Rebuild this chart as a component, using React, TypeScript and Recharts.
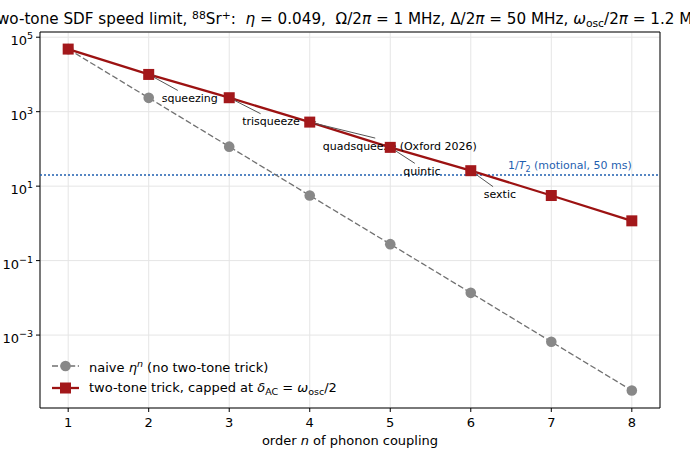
import {
  LineChart,
  Line,
  XAxis,
  YAxis,
  CartesianGrid,
  ReferenceLine,
  ReferenceDot,
  ReferenceArea,
  Legend,
} from 'recharts';

const orders = [1, 2, 3, 4, 5, 6, 7, 8];
// rate (1/s) if the n-th order coupling simply scales as eta^n
const naiveRate = [48000, 2350, 115, 5.6, 0.277, 0.0136, 0.00066, 0.0000325];
// two-tone SDF rate, capped at delta_AC = omega_osc / 2
const twoToneRate = [48000, 10000, 2370, 525, 110, 26, 5.6, 1.17];
const orderNames = ['', 'squeezing', 'trisqueeze', 'quadsqueeze (Oxford 2026)', 'quintic', 'sextic', '', ''];
// 1/T2 for 50 ms motional coherence
const t2Rate = 20;
const t2Order = 8;

const xTicks = [1, 2, 3, 4, 5, 6, 7, 8];
const yTicks = [1e-3, 1e-1, 1e1, 1e3, 1e5];
const xDomain: [number, number] = [0.65, 8.35];
const yDomain: [number, number] = [1.1e-5, 1.38e5];

const data = orders.map((n, i) => ({ n, naive: naiveRate[i], twoTone: twoToneRate[i] }));

const FONT = '"DejaVu Sans", sans-serif';
const RED = '#9c1212';
const RED_MARK = '#a3181b';
const GRAY_LINE = '#707070';
const GRAY_MARK = '#888888';
const BLUE = '#1f5fb0';
const NOTE_SIZE = 11;

function YTick({ x, y, payload }: any) {
  const e = Math.round(Math.log10(payload.value));
  const exp = e < 0 ? `\u2212${-e}` : `${e}`;
  return (
    <text x={x} y={y + 8} textAnchor="end" fontSize={13} fill="#000" fontFamily={FONT}>
      10
      <tspan dy={-6} fontSize={9.5}>
        {exp}
      </tspan>
    </text>
  );
}

function XTick({ x, y, payload }: any) {
  return (
    <text x={x} y={y} dy="0.71em" textAnchor="middle" fontSize={13} fill="#000" fontFamily={FONT}>
      {payload.value}
    </text>
  );
}

function XLabel({ viewBox }: any) {
  const { x, y, width } = viewBox;
  return (
    <text x={x + width / 2} y={y + 37} textAnchor="middle" fontSize={13} fill="#000" fontFamily={FONT}>
      {'order '}
      <tspan fontStyle="italic">n</tspan>
      {' of phonon coupling'}
    </text>
  );
}

function CircleDot(p: any) {
  if (p.cx == null || p.cy == null) return null;
  return <circle key={`c${p.index}`} cx={p.cx} cy={p.cy} r={5.3} fill={GRAY_MARK} />;
}

function SquareDot(p: any) {
  if (p.cx == null || p.cy == null) return null;
  return <rect key={`s${p.index}`} x={p.cx - 5.5} y={p.cy - 5.5} width={11} height={11} fill={RED_MARK} />;
}

// text offset below-right of the point, with an arrow back to it
function Callout({ cx, cy, text }: { cx: number; cy: number; text: string }) {
  const w = text.length * 0.62 * NOTE_SIZE;
  const tx = cx + 13;
  const xc = tx + w / 2;
  const yc = cy + 24;
  const dx = cx - xc;
  const dy = cy - yc;
  const t = Math.min(Math.abs(w / 2 / dx), Math.abs(8 / dy));
  const sx = xc + dx * t;
  const sy = yc + dy * t;
  const len = Math.hypot(cx - sx, cy - sy);
  const ux = (cx - sx) / len;
  const uy = (cy - sy) / len;
  const ex = cx - ux * 2;
  const ey = cy - uy * 2;
  const head = (a: number) => {
    const c = Math.cos(a);
    const s = Math.sin(a);
    return `${ex - 4.5 * (ux * c - uy * s)},${ey - 4.5 * (ux * s + uy * c)}`;
  };
  return (
    <g>
      <line x1={sx} y1={sy} x2={ex} y2={ey} stroke="#555" strokeWidth={1} />
      <polyline points={`${head(0.45)} ${ex},${ey} ${head(-0.45)}`} fill="none" stroke="#555" strokeWidth={1} />
      <text x={tx} y={yc} dominantBaseline="central" fontSize={NOTE_SIZE} fill="#000" fontFamily={FONT}>
        {text}
      </text>
    </g>
  );
}

function T2Label({ cx, cy }: any) {
  return (
    <text x={cx} y={cy - 6} textAnchor="end" fontSize={NOTE_SIZE} fill={BLUE} fontFamily={FONT}>
      {'1/'}
      <tspan fontStyle="italic">T</tspan>
      <tspan dy={3} fontSize={8}>
        2
      </tspan>
      <tspan dy={-3}>{' (motional, 50 ms)'}</tspan>
    </text>
  );
}

function LegendBox() {
  const row = { display: 'flex', alignItems: 'center', height: 22 } as const;
  return (
    <div style={{ fontFamily: FONT, fontSize: 13, color: '#000', paddingLeft: 8, whiteSpace: 'pre' }}>
      <div style={row}>
        <svg width={27} height={22}>
          <line x1={0} y1={11} x2={27} y2={11} stroke={GRAY_LINE} strokeWidth={1.3} strokeDasharray="6 2.6" />
          <circle cx={13.5} cy={11} r={5.3} fill={GRAY_MARK} />
        </svg>
        <span style={{ marginLeft: 10 }}>
          naive <i>η</i>
          <span style={{ fontSize: 9.5, verticalAlign: 5, fontStyle: 'italic' }}>n</span> (no two-tone trick)
        </span>
      </div>
      <div style={row}>
        <svg width={27} height={22}>
          <line x1={0} y1={11} x2={27} y2={11} stroke={RED} strokeWidth={2.3} />
          <rect x={8} y={5.5} width={11} height={11} fill={RED_MARK} />
        </svg>
        <span style={{ marginLeft: 10 }}>
          two-tone trick, capped at <i>δ</i>
          <span style={{ fontSize: 9.5, verticalAlign: -3 }}>AC</span> = <i>ω</i>
          <span style={{ fontSize: 9.5, verticalAlign: -3 }}>osc</span>/2
        </span>
      </div>
    </div>
  );
}

export default function App() {
  return (
    <div style={{ position: 'absolute', left: 0, top: 0, width: 690, height: 460, background: '#fff', overflow: 'hidden' }}>
      <LineChart width={690} height={460} data={data} margin={{ top: 32, right: 30, bottom: 0, left: 0 }}>
        <CartesianGrid stroke="#e5e5e5" strokeWidth={1} />
        <XAxis
          type="number"
          dataKey="n"
          domain={xDomain}
          ticks={xTicks}
          interval={0}
          allowDataOverflow
          height={52}
          tickSize={4}
          tickMargin={6}
          axisLine={false}
          tickLine={{ stroke: '#000' }}
          tick={XTick}
          label={<XLabel />}
        />
        <YAxis
          type="number"
          scale="log"
          domain={yDomain}
          ticks={yTicks}
          interval={0}
          allowDataOverflow
          width={40}
          tickSize={4}
          tickMargin={3}
          axisLine={false}
          tickLine={{ stroke: '#000' }}
          tick={YTick}
        />
        <ReferenceArea
          x1={xDomain[0]}
          x2={xDomain[1]}
          y1={yDomain[0]}
          y2={yDomain[1]}
          fill="none"
          fillOpacity={0}
          stroke="#000"
          strokeWidth={1}
          strokeOpacity={1}
        />
        <ReferenceLine y={t2Rate} stroke={BLUE} strokeWidth={1.6} strokeDasharray="2 2" />
        <ReferenceDot x={t2Order} y={t2Rate} r={0} fill="none" stroke="none" shape={(p: any) => <T2Label cx={p.cx} cy={p.cy} />} />
        <Line
          dataKey="naive"
          type="linear"
          stroke={GRAY_LINE}
          strokeWidth={1.3}
          strokeDasharray="6 2.6"
          dot={CircleDot}
          activeDot={false}
          isAnimationActive={false}
        />
        <Line
          dataKey="twoTone"
          type="linear"
          stroke={RED}
          strokeWidth={2.3}
          dot={SquareDot}
          activeDot={false}
          isAnimationActive={false}
        />
        {orders.map((n, i) =>
          orderNames[i] ? (
            <ReferenceDot
              key={n}
              x={n}
              y={twoToneRate[i]}
              r={0}
              fill="none"
              stroke="none"
              shape={(p: any) => <Callout cx={p.cx} cy={p.cy} text={orderNames[i]} />}
            />
          ) : null,
        )}
        <Legend
          layout="vertical"
          align="center"
          verticalAlign="middle"
          wrapperStyle={{ left: 44, top: 355, width: 'auto', height: 'auto' }}
          content={() => <LegendBox />}
        />
      </LineChart>
      <svg width={690} height={460} style={{ position: 'absolute', left: 0, top: 0, pointerEvents: 'none' }}>
        <text x={351} y={24} textAnchor="middle" fontSize={15.2} fill="#000" fontFamily={FONT} style={{ whiteSpace: 'pre' }}>
          {'Two-tone SDF speed limit, '}
          <tspan dy={-5} fontSize={10.8}>
            88
          </tspan>
          <tspan dy={5}>Sr</tspan>
          <tspan dy={-5} fontSize={10.8}>
            +
          </tspan>
          <tspan dy={5}>{':  '}</tspan>
          <tspan fontStyle="italic">η</tspan>
          {' = 0.049,  Ω/2'}
          <tspan fontStyle="italic">π</tspan>
          {' = 1 MHz, Δ/2'}
          <tspan fontStyle="italic">π</tspan>
          {' = 50 MHz, '}
          <tspan fontStyle="italic">ω</tspan>
          <tspan dy={3} fontSize={10.8}>
            osc
          </tspan>
          <tspan dy={-3}>{'/2'}</tspan>
          <tspan fontStyle="italic">π</tspan>
          {' = 1.2 MHz'}
        </text>
      </svg>
    </div>
  );
}
